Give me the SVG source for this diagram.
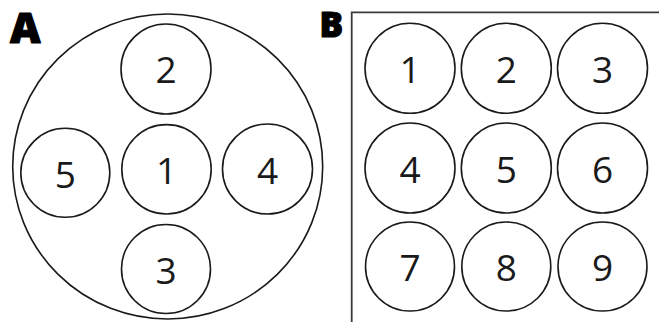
<svg xmlns="http://www.w3.org/2000/svg" width="659" height="322" viewBox="0 0 659 322">
<style>
.c{fill:#fff;stroke:#1a1a1a;stroke-width:1.6}
.n{font-family:"Open Sans","Noto Sans",sans-serif;font-size:37px;fill:#1a1a1a;text-anchor:middle}
.p{font-family:"Open Sans","Noto Sans",sans-serif;font-weight:800;fill:#000;stroke:#000;stroke-width:1.2;stroke-linejoin:round}
.f{fill:none;stroke:#3a3a3a;stroke-width:1.8}
</style>
<rect width="659" height="322" fill="#fff"/>
<g id="panelA">
<text class="p" x="10" y="42.5" font-size="42">A</text>
<ellipse class="c" cx="167.7" cy="166.5" rx="155" ry="152.5"/>
<g id="a2"><circle class="c" cx="166" cy="69" r="45"/><text class="n" x="166" y="83">2</text></g>
<g id="a1"><circle class="c" cx="166.5" cy="169.3" r="44.7"/><text class="n" x="166.5" y="184">1</text></g>
<g id="a5"><circle class="c" cx="65.3" cy="172.8" r="44.5"/><text class="n" x="65.3" y="188">5</text></g>
<g id="a4"><circle class="c" cx="267.5" cy="169" r="45"/><text class="n" x="267.5" y="184">4</text></g>
<g id="a3"><circle class="c" cx="166" cy="269" r="44.5"/><text class="n" x="166" y="284">3</text></g>
</g>
<g id="panelB">
<text class="p" x="319.5" y="37" font-size="35">B</text>
<path class="f" d="M351.7 322V12.3H659"/>
<g id="b1"><circle class="c" cx="410" cy="68.3" r="45"/><text class="n" x="410" y="83">1</text></g>
<g id="b2"><circle class="c" cx="506.3" cy="68.3" r="45"/><text class="n" x="506.3" y="83">2</text></g>
<g id="b3"><circle class="c" cx="602.5" cy="68.3" r="45"/><text class="n" x="602.5" y="83">3</text></g>
<g id="b4"><circle class="c" cx="410" cy="168" r="45"/><text class="n" x="410" y="183">4</text></g>
<g id="b5"><circle class="c" cx="506.3" cy="168" r="45"/><text class="n" x="506.3" y="183">5</text></g>
<g id="b6"><circle class="c" cx="602.5" cy="168" r="45"/><text class="n" x="602.5" y="183">6</text></g>
<g id="b7"><circle class="c" cx="410" cy="266.5" r="44.5"/><text class="n" x="410" y="281">7</text></g>
<g id="b8"><circle class="c" cx="506.3" cy="266.5" r="44.5"/><text class="n" x="506.3" y="281">8</text></g>
<g id="b9"><circle class="c" cx="602.5" cy="266.5" r="44.5"/><text class="n" x="602.5" y="281">9</text></g>
</g>
<g id="connectors"></g>
</svg>
